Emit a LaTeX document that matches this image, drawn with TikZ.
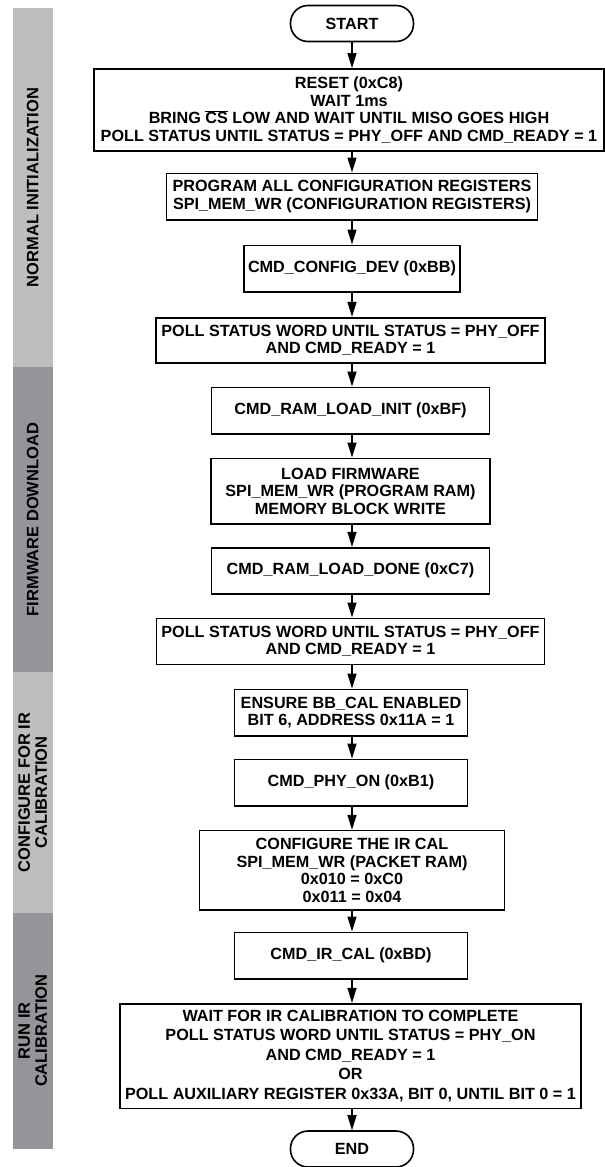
\documentclass[tikz,border=0pt]{standalone}
\usepackage{fontspec}
\setmainfont{Liberation Sans}
\usepackage{tikz}
\usetikzlibrary{arrows.meta}

\definecolor{barlight}{RGB}{188,190,192}
\definecolor{bardark}{RGB}{147,149,152}
\newcommand\ovl[1]{$\overline{\mbox{#1}}$}

\begin{document}
\begin{tikzpicture}[y=-1bp,x=1bp,
	box/.style={draw,line width=1.6bp,align=center,inner sep=0pt,font=\fontsize{16.2bp}{17.5bp}\selectfont\bfseries},
	term/.style={box,rounded corners=17.5bp,minimum width=123bp,minimum height=36bp},
	flow/.style={line width=1.4bp,-{Triangle[length=15bp,width=9bp]}},
	barlabel/.style={rotate=90,align=center,font=\fontsize{16.5bp}{17bp}\selectfont\bfseries}]
	\useasboundingbox (0,0) rectangle (605,1167);

	\fill[barlight] (13,8) rectangle (52.7,367);
	\fill[bardark] (13,367) rectangle (52.7,672.3);
	\fill[barlight] (13,672.3) rectangle (52.7,912.7);
	\fill[bardark] (13,912.7) rectangle (52.7,1148.7);

	\node[barlabel] (lblinit) at (32.8,187.5) {NORMAL INITIALIZATION};
	\node[barlabel] (lblfw) at (32.8,519.6) {FIRMWARE DOWNLOAD};
	\node[barlabel] (lblcfg) at (32.8,792.5) {CONFIGURE FOR IR\\CALIBRATION};
	\node[barlabel] (lblrun) at (32.8,1030.7) {RUN IR\\CALIBRATION};

	\node[term] (start) at (352,23.5) {START};
	\node[box,minimum width=510bp,minimum height=82bp] (reset) at (349,110) {RESET (0xC8)\\WAIT 1ms\\BRING \ovl{CS} LOW AND WAIT UNTIL MISO GOES HIGH\\POLL STATUS UNTIL STATUS = PHY\_OFF AND CMD\_READY = 1};
	\node[box,minimum width=371bp,minimum height=46.7bp] (prog) at (352,196.7) {PROGRAM ALL CONFIGURATION REGISTERS\\SPI\_MEM\_WR (CONFIGURATION REGISTERS)};
	\node[box,minimum width=216.5bp,minimum height=46.4bp] (cfgdev) at (352,268.5) {CMD\_CONFIG\_DEV (0xBB)};
	\node[box,minimum width=388.5bp,minimum height=45bp] (pollA) at (350.5,340.2) {POLL STATUS WORD UNTIL STATUS = PHY\_OFF\\AND CMD\_READY = 1};
	\node[box,minimum width=277.8bp,minimum height=46.7bp] (ldinit) at (350.5,410.7) {CMD\_RAM\_LOAD\_INIT (0xBF)};
	\node[box,minimum width=279.4bp,minimum height=65.7bp] (ldfw) at (350.5,491.2) {LOAD FIRMWARE\\SPI\_MEM\_WR (PROGRAM RAM)\\MEMORY BLOCK WRITE};
	\node[box,minimum width=277.8bp,minimum height=46bp] (lddone) at (350.5,570.7) {CMD\_RAM\_LOAD\_DONE (0xC7)};
	\node[box,minimum width=387.7bp,minimum height=46bp] (pollB) at (350.5,641.3) {POLL STATUS WORD UNTIL STATUS = PHY\_OFF\\AND CMD\_READY = 1};
	\node[box,minimum width=233bp,minimum height=46.7bp] (ensure) at (351,712.7) {ENSURE BB\_CAL ENABLED\\BIT 6, ADDRESS 0x11A = 1};
	\node[box,minimum width=233bp,minimum height=46.7bp] (phyon) at (351,782.7) {CMD\_PHY\_ON (0xB1)};
	\node[box,minimum width=304.7bp,minimum height=79.3bp] (cfgir) at (352,870.3) {CONFIGURE THE IR CAL\\SPI\_MEM\_WR (PACKET RAM)\\0x010 = 0xC0\\0x011 = 0x04};
	\node[box,minimum width=233bp,minimum height=46.7bp] (ircal) at (351,955.7) {CMD\_IR\_CAL (0xBD)};
	\node[box,minimum width=461bp,minimum height=104.6bp,font=\fontsize{16.2bp}{19.5bp}\selectfont\bfseries] (wait) at (350.5,1056) {WAIT FOR IR CALIBRATION TO COMPLETE\\POLL STATUS WORD UNTIL STATUS = PHY\_ON\\AND CMD\_READY = 1\\OR\\POLL AUXILIARY REGISTER 0x33A, BIT 0, UNTIL BIT 0 = 1};
	\node[term] (stop) at (352,1149) {END};

	\foreach \a/\b in {start/reset,reset/prog,prog/cfgdev,cfgdev/pollA,pollA/ldinit,ldinit/ldfw,ldfw/lddone,lddone/pollB,pollB/ensure,ensure/phyon,phyon/cfgir,cfgir/ircal,ircal/wait,wait/stop}
		\draw[flow] (\a.south -| start) -- (\b.north -| start);
\end{tikzpicture}
\end{document}
